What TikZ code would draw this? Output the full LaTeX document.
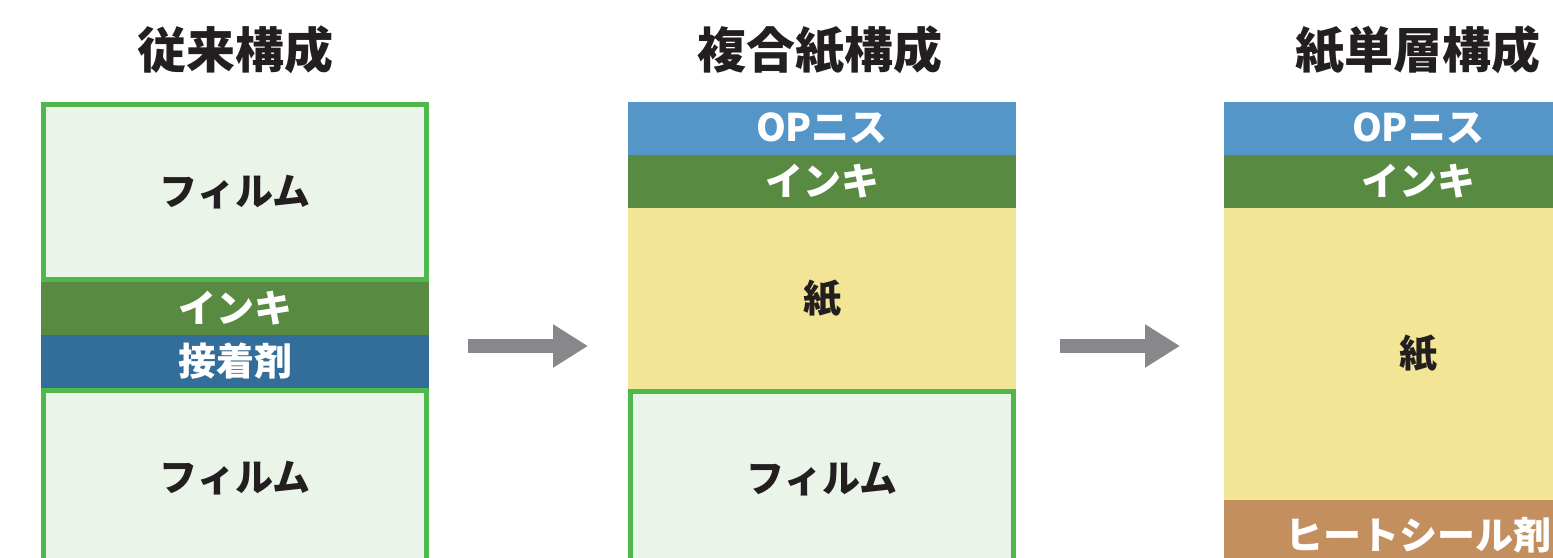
\documentclass[tikz,border=0pt]{standalone}
\usepackage{fontspec}
\setmainfont{Noto Sans CJK JP}
\usetikzlibrary{positioning,arrows.meta}
\definecolor{filmfill}{RGB}{234,244,232}
\definecolor{filmline}{RGB}{78,184,74}
\definecolor{inkcol}{RGB}{88,138,66}
\definecolor{gluecol}{RGB}{51,109,153}
\definecolor{opcol}{RGB}{84,150,200}
\definecolor{papercol}{RGB}{243,229,150}
\definecolor{sealcol}{RGB}{195,143,94}
\definecolor{arrowcol}{RGB}{136,136,140}
\definecolor{darktext}{RGB}{35,31,32}

\begin{document}
\begin{tikzpicture}[x=1pt,y=-1pt,
  layer/.style={minimum width=388pt,inner sep=0pt,outer sep=0pt,text=white,
    font=\bfseries\fontsize{38}{38}\selectfont},
  film/.style={layer,minimum width=383pt,minimum height=175pt,fill=filmfill,
    draw=filmline,line width=5pt,outer sep=2.5pt,text=darktext},
  inklayer/.style={layer,fill=inkcol,minimum height=53pt},
  gluelayer/.style={layer,fill=gluecol,minimum height=53pt},
  oplayer/.style={layer,fill=opcol,minimum height=53pt},
  paperlayer/.style={layer,fill=papercol,text=darktext},
  seallayer/.style={layer,fill=sealcol,minimum height=70pt},
  title/.style={text=darktext,font=\bfseries\fontsize{49}{49}\selectfont},
  flow/.style={arrowcol,line width=14pt,-{Triangle[length=35pt,width=41pt]}}]

\useasboundingbox (0,0) rectangle (1553,557);
\clip (0,0) rectangle (1553,557);
\fill[white] (0,0) rectangle (1553,557);

\node[title] (t1) at (235,50) {従来構成};
\node[title] (t2) at (820,50) {複合紙構成};
\node[title] (t3) at (1418,50) {紙単層構成};

\node[film,anchor=north west] (filma) at (41,102) {フィルム};
\node[inklayer] (inka) [below=0pt of filma] {インキ};
\node[gluelayer] (gluea) [below=0pt of inka] {接着剤};
\node[film] (filmb) [below=0pt of gluea] {フィルム};

\node[oplayer,anchor=north west] (opb) at (628,102) {OPニス};
\node[inklayer] (inkb) [below=0pt of opb] {インキ};
\node[paperlayer,minimum height=181pt] (paperb) [below=0pt of inkb] {紙};
\node[film] (filmc) [below=0pt of paperb] {フィルム};

\node[oplayer,anchor=north west] (opc) at (1224,102) {OPニス};
\node[inklayer] (inkc) [below=0pt of opc] {インキ};
\node[paperlayer,minimum height=292pt] (paperc) [below=0pt of inkc] {紙};
\node[seallayer] (sealc) [below=0pt of paperc] {ヒートシール剤};

\coordinate (a1s) at (468,346);
\coordinate (a1e) at (588,346);
\coordinate (a2s) at (1060,346);
\coordinate (a2e) at (1180,346);
\draw[flow] (a1s) -- (a1e);
\draw[flow] (a2s) -- (a2e);

\end{tikzpicture}
\end{document}
